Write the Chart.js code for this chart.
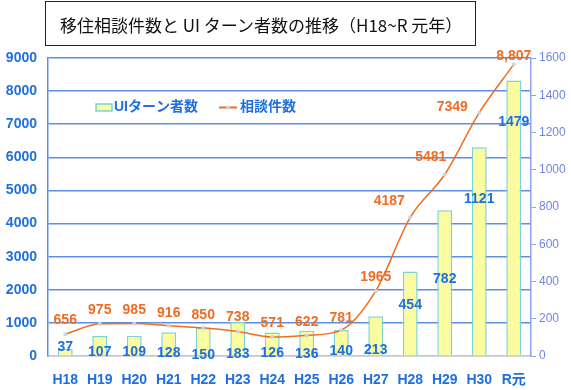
<!DOCTYPE html>
<html>
<head>
<meta charset="utf-8">
<script src="https://cdn.jsdelivr.net/npm/chart.js@4.4.0/dist/chart.umd.min.js"></script>
<style>
  html, body { margin: 0; padding: 0; background: #fff; }
  #wrap { position: relative; width: 571px; height: 390px; }
  #chart { position: absolute; left: 0; top: 0; }
  #title {
    position: absolute; left: 45px; top: 1px; width: 431px; height: 45px;
    border: 1.5px solid #222; box-sizing: border-box;
    font: 17px "Noto Sans CJK JP", sans-serif; color: #111;
    display: flex; align-items: center; padding-left: 14px; padding-top: 2px;
  }
</style>
</head>
<body>
<div id="wrap">
  <canvas id="chart" width="571" height="390"></canvas>
  <div id="title">移住相談件数と UI ターン者数の推移（H18~R 元年）</div>
</div>
<script>
/* global Chart:false */

var years = ["H18", "H19", "H20", "H21", "H22", "H23", "H24", "H25", "H26", "H27", "H28", "H29", "H30", "R元"];
var uiturn = [37, 107, 109, 128, 150, 183, 126, 136, 140, 213, 454, 782, 1121, 1479];
var consults = [656, 975, 985, 916, 850, 738, 571, 622, 781, 1965, 4187, 5481, 7349, 8807];

// label placement, picked by eye from the original (dx, dy in px)
var lineLabelShift = [[0, -14], [0, -14], [0, -13], [0, -13], [0, -13], [0, -14], [0, -14],
  [0, -13], [0, -12], [0, -14], [-21, -16], [-14, -17], [-27, -6], [0, -8]];
var barLabelShift = [[0, -2], [0, 16], [0, 16], [0, 21], [0, 27], [0, 32], [0, 21],
  [0, 23], [0, 21], [0, 34], [0, 34], [0, 69], [0, 52], [0, 42]];

var BLUE = "#1f6fe0";
var ORANGE = "#ee6d22";
var GRID = "#5b8fe6";
var BAR_FILL = "#fbfb9f";
var BAR_EDGE = "#79d3d8";
var FONT = '"Liberation Sans", "Noto Sans CJK JP", sans-serif';

Chart.defaults.font.family = FONT;

function plainNumber(v) {
  return String(v);
}

var valueLabels = {
  id: "valueLabels",
  afterDatasetsDraw: function (chart) {
    var ctx = chart.ctx;
    ctx.save();
    ctx.font = "bold 14px " + FONT;
    ctx.textAlign = "center";
    ctx.textBaseline = "middle";

    var bars = chart.getDatasetMeta(1).data;
    ctx.fillStyle = BLUE;
    bars.forEach(function (bar, i) {
      ctx.fillText(String(uiturn[i]), bar.x + barLabelShift[i][0], bar.y + barLabelShift[i][1]);
    });

    var pts = chart.getDatasetMeta(0).data;
    ctx.fillStyle = ORANGE;
    pts.forEach(function (p, i) {
      var txt = i === pts.length - 1 ? consults[i].toLocaleString("en-US") : String(consults[i]);
      ctx.fillText(txt, p.x + lineLabelShift[i][0], p.y + lineLabelShift[i][1]);
    });
    ctx.restore();
  },
};

// legend sits inside the plot, so draw it by hand
var innerLegend = {
  id: "innerLegend",
  afterDraw: function (chart) {
    var ctx = chart.ctx;
    var y = 107.5;
    ctx.save();
    ctx.fillStyle = BAR_FILL;
    ctx.strokeStyle = BAR_EDGE;
    ctx.lineWidth = 1.5;
    ctx.fillRect(96, y - 3.5, 16, 7);
    ctx.strokeRect(96, y - 3.5, 16, 7);

    ctx.font = "bold 14px " + FONT;
    ctx.fillStyle = BLUE;
    ctx.textBaseline = "middle";
    ctx.fillText(chart.data.datasets[1].label, 114, y);

    ctx.strokeStyle = ORANGE;
    ctx.lineWidth = 2;
    ctx.beginPath();
    ctx.moveTo(219, y);
    ctx.lineTo(237, y);
    ctx.stroke();
    ctx.fillStyle = "#c9d6d8";
    ctx.beginPath();
    ctx.arc(228, y, 2, 0, Math.PI * 2);
    ctx.fill();

    ctx.fillStyle = BLUE;
    ctx.fillText(chart.data.datasets[0].label, 240, y);
    ctx.restore();
  },
};

new Chart(document.getElementById("chart"), {
  data: {
    labels: years,
    datasets: [
      {
        type: "line",
        label: "相談件数",
        data: consults,
        yAxisID: "y",
        order: 0,
        borderColor: ORANGE,
        borderWidth: 1.5,
        cubicInterpolationMode: "monotone",
        pointRadius: 2,
        pointBackgroundColor: "#c9d6d8",
        pointBorderWidth: 0,
      },
      {
        type: "bar",
        label: "UIターン者数",
        data: uiturn,
        yAxisID: "y1",
        order: 1,
        backgroundColor: BAR_FILL,
        borderColor: BAR_EDGE,
        borderWidth: 1.5,
        barPercentage: 0.48,
        categoryPercentage: 0.9,
      },
    ],
  },
  options: {
    responsive: false,
    animation: false,
    layout: { padding: { top: 58, left: 0, right: 0, bottom: 0 } },
    plugins: {
      legend: { display: false },
      tooltip: { enabled: false },
    },
    scales: {
      x: {
        grid: { display: false },
        border: { color: "#c8c8c8", width: 1.5 },
        ticks: { color: BLUE, font: { size: 14, weight: "bold" }, padding: 8 },
        afterFit: function (scale) { scale.height = 34; },
      },
      y: {
        position: "left",
        min: 0,
        max: 9000,
        grid: {
          color: function (c) { return c.tick && c.tick.value === 0 ? "#c8c8c8" : GRID; },
          lineWidth: 1.5,
          drawTicks: false,
        },
        border: { color: GRID, width: 1.5 },
        ticks: {
          stepSize: 1000,
          color: BLUE,
          font: { size: 14, weight: "bold" },
          padding: 11,
          callback: plainNumber,
        },
        afterFit: function (scale) { scale.width = 48; },
      },
      y1: {
        position: "right",
        min: 0,
        max: 1600,
        grid: { drawOnChartArea: false, color: "#8fa2e8", tickLength: 5 },
        border: { color: "#8fa2e8", width: 1.5 },
        ticks: {
          stepSize: 200,
          color: "#6f86e0",
          font: { size: 12 },
          padding: 3,
          callback: plainNumber,
        },
        afterFit: function (scale) { scale.width = 40; },
      },
    },
  },
  plugins: [valueLabels, innerLegend],
});
</script>
</body>
</html>
